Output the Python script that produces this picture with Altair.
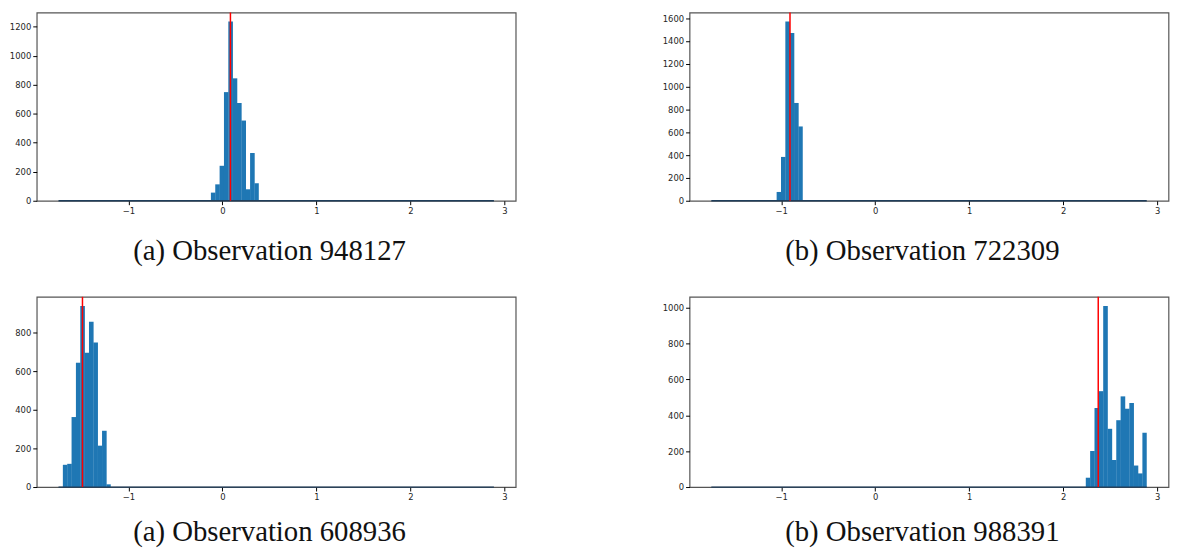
import altair as alt
import pandas as pd

# histogram bin layout (shared by all panels)
LO = -1.744
HI = 2.888
NBINS = 100

# panel data: first non-empty bin index, bin counts, red reference line, caption
p1_start = 35
p1_counts = [56, 113, 241, 749, 1236, 844, 674, 553, 79, 329, 120]
p1_red = 0.085
p1_caption = "(a) Observation 948127"
p1_yticks = [0, 200, 400, 600, 800, 1000, 1200]

p2_start = 15
p2_counts = [77, 384, 1571, 1471, 857, 651]
p2_red = -0.907
p2_caption = "(b) Observation 722309"
p2_yticks = [0, 200, 400, 600, 800, 1000, 1200, 1400, 1600]

p3_start = 1
p3_counts = [115, 120, 362, 643, 937, 694, 855, 747, 214, 291, 14]
p3_red = -1.489
p3_caption = "(a) Observation 608936"
p3_yticks = [0, 200, 400, 600, 800]

p4_start = 86
p4_counts = [52, 201, 441, 535, 1011, 325, 151, 373, 506, 437, 469, 120, 76, 303]
p4_red = 2.372
p4_caption = "(b) Observation 988391"
p4_yticks = [0, 200, 400, 600, 800, 1000]

x_ticks = [-1, 0, 1, 2, 3]

BW = (HI - LO) / NBINS
MARG = 0.05 * (HI - LO)
PW = 483.5


def panel(start, counts, red, caption, yticks, height, cap_y):
    n = len(counts)
    df = pd.DataFrame({
        "x0": [LO + (start + i) * BW for i in range(n)],
        # slight overlap with the next bin so adjacent bars render without seams
        "x1": [LO + (start + i + 1) * BW + (BW * 0.06 if i < n - 1 else 0) for i in range(n)],
        "count": counts,
    })
    ymax = 1.05 * max(counts)
    xs = alt.Scale(domain=[LO - MARG, HI + MARG], nice=False, zero=False)
    ys = alt.Scale(domain=[0, ymax], nice=False, zero=True)
    xax = alt.Axis(values=x_ticks, title=None, format="d")
    yax = alt.Axis(values=yticks, title=None, format="d")

    bars = alt.Chart(df).mark_rect(color="#1f77b4").encode(
        x=alt.X("x0:Q", scale=xs, axis=xax),
        x2="x1",
        y=alt.Y("count:Q", scale=ys, axis=yax),
        y2=alt.datum(0),
    )
    base = alt.Chart(pd.DataFrame({"a": [LO], "b": [HI], "z": [0]})).mark_rule(
        color="#1f3d5a", strokeWidth=1.3
    ).encode(
        x=alt.X("a:Q", scale=xs, axis=xax),
        x2="b",
        y=alt.Y("z:Q", scale=ys, axis=yax),
    )
    redline = alt.Chart(pd.DataFrame({"v": [red]})).mark_rule(
        color="#ff0000", strokeWidth=1.5
    ).encode(x=alt.X("v:Q", scale=xs, axis=xax))
    cap = alt.Chart(pd.DataFrame({"t": [caption]})).mark_text(
        font="Liberation Serif", fontSize=29, align="center", baseline="alphabetic",
        color="#111111"
    ).encode(text="t:N", x=alt.value(235), y=alt.value(cap_y))
    return alt.layer(bars, base, redline, cap).properties(width=PW, height=height)


c1 = panel(p1_start, p1_counts, p1_red, p1_caption, p1_yticks, 190, 250.3)
c2 = panel(p2_start, p2_counts, p2_red, p2_caption, p2_yticks, 190, 250.3)
c3 = panel(p3_start, p3_counts, p3_red, p3_caption, p3_yticks, 192, 246)
c4 = panel(p4_start, p4_counts, p4_red, p4_caption, p4_yticks, 192, 246)

row1 = alt.hconcat(c1, c2, spacing=145)
row2 = alt.hconcat(c3, c4, spacing=145)

chart = alt.vconcat(row1, row2, spacing=28).properties(
    padding=0, background="white"
).configure_axis(
    labelFont="DejaVu Sans", labelFontSize=8.5, labelColor="#262626",
    tickColor="#000000", tickSize=4, domain=False, grid=False, labelPadding=2,
).configure_axisY(minExtent=27, maxExtent=27).configure_view(
    stroke="#555555", strokeWidth=1.2
).configure_concat(spacing=28)

chart.save("out.html", embed_options={"renderer": "svg", "actions": False})
